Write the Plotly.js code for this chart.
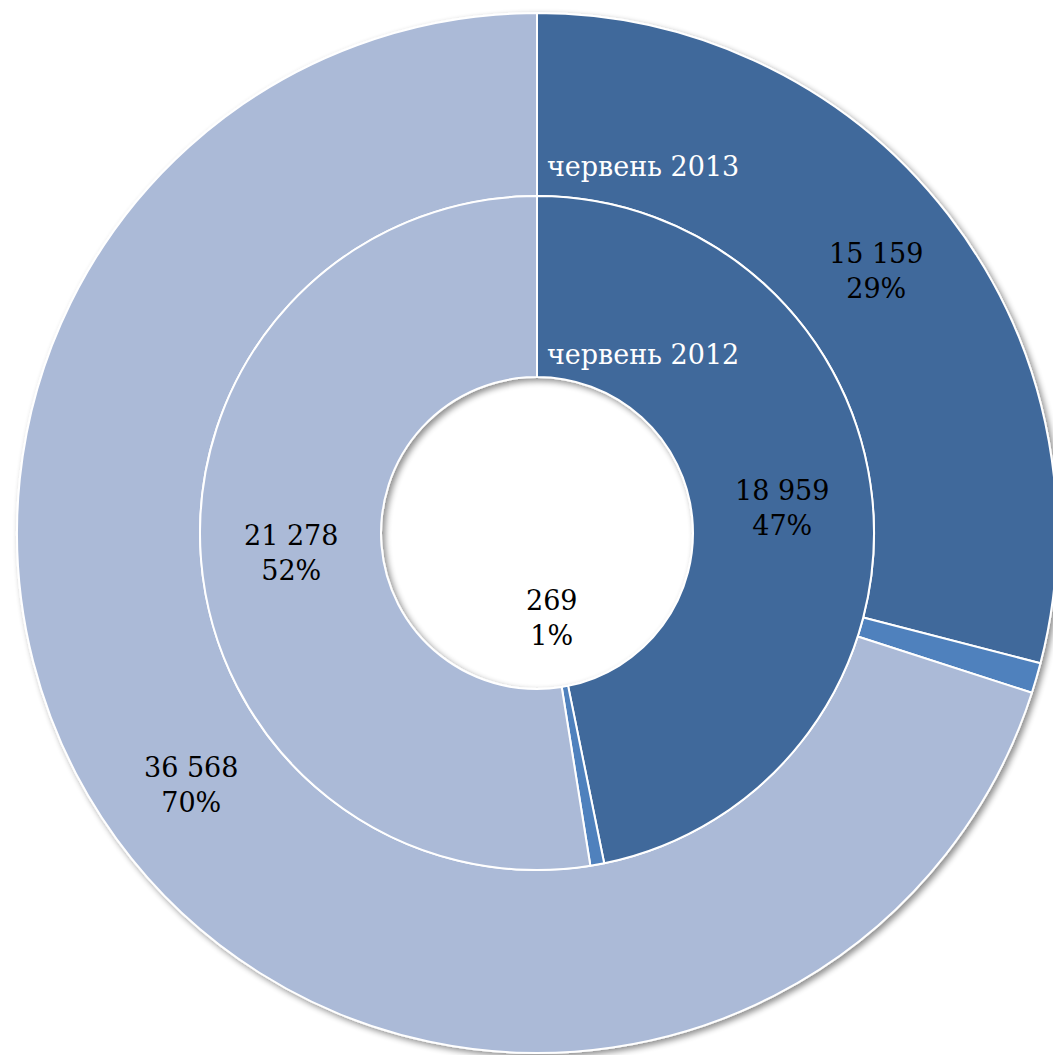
<!DOCTYPE html>
<html>
<head>
<meta charset="utf-8">
<script src="https://cdn.plot.ly/plotly-3.0.1.min.js"></script>
<style>
html, body { margin: 0; padding: 0; overflow: hidden; background: #ffffff; }
#chart { width: 1080px; height: 1055px; }
</style>
</head>
<body>
<svg width="0" height="0" style="position:absolute">
  <defs>
    <filter id="ringshadow" x="-5%" y="-5%" width="110%" height="110%">
      <feGaussianBlur in="SourceAlpha" stdDeviation="3"/>
      <feOffset dx="3" dy="3" result="blurred"/>
      <feComponentTransfer>
        <feFuncA type="linear" slope="0.45"/>
      </feComponentTransfer>
      <feMerge>
        <feMergeNode/>
        <feMergeNode in="SourceGraphic"/>
      </feMerge>
    </filter>
  </defs>
</svg>
<div id="chart"></div>
<script>
// ---- data ----
const categories = ["A", "B", "C"];
const seriesNames = ["червень 2013", "червень 2012"];
const values2013 = [15159, 490, 36568];
const values2012 = [18959, 269, 21278];
const shownLabels2013 = ["15 159", null, "36 568"];
const shownLabels2012 = ["18 959", "269", "21 278"];
const shownPct2013 = ["29%", null, "70%"];
const shownPct2012 = ["47%", "1%", "52%"];
const colors = ["#41699b", "#4f81bd", "#abbad7"];

// ---- geometry ----
const W = 1080, H = 1055;
const cx = 537, cy = 533;      // pixel centre (from top-left)
const R1 = 520, R2 = 337, R3 = 156;
const FONT = "DejaVu Serif";
const FS = 27;

function domainFor(r) {
  return {
    x: [(cx - r) / W, (cx + r) / W],
    y: [(H - cy - r) / H, (H - cy + r) / H]
  };
}

const traces = [
  {
    type: "pie",
    name: seriesNames[0],
    labels: categories,
    values: values2013,
    domain: domainFor(R1),
    hole: R2 / R1,
    sort: false,
    direction: "clockwise",
    rotation: 0,
    textinfo: "none",
    hoverinfo: "none",
    marker: { colors: colors, line: { color: "#ffffff", width: 2 } },
    showlegend: false
  },
  {
    type: "pie",
    name: seriesNames[1],
    labels: categories,
    values: values2012,
    domain: domainFor(R2),
    hole: R3 / R2,
    sort: false,
    direction: "clockwise",
    rotation: 0,
    textinfo: "none",
    hoverinfo: "none",
    marker: { colors: colors, line: { color: "#ffffff", width: 2 } },
    showlegend: false
  }
];

// labels placed at the middle angle of each slice
function ringLabels(vals, texts, pcts, rMid, overrides) {
  const tot = vals.reduce((a, b) => a + b, 0);
  let acc = 0;
  const out = [];
  vals.forEach((v, i) => {
    const mid = (acc + v / 2) / tot * 2 * Math.PI;
    acc += v;
    if (texts[i] === null) return;
    const r = (overrides && overrides[i] !== undefined) ? overrides[i] : rMid;
    const px = cx + r * Math.sin(mid);
    const py = cy - r * Math.cos(mid);
    out.push({
      x: px / W, y: 1 - py / H, xref: "paper", yref: "paper",
      xanchor: "center", yanchor: "middle", showarrow: false,
      text: texts[i] + "<br>" + pcts[i],
      font: { family: FONT, size: FS, color: "#000000" }
    });
  });
  return out;
}

const annotations = []
  .concat(ringLabels(values2013, shownLabels2013, shownPct2013, (R1 + R2) / 2))
  .concat(ringLabels(values2012, shownLabels2012, shownPct2012, (R2 + R3) / 2, { 1: 86 }))
  .concat([
    {
      x: (cx + 8) / W, y: 1 - (cy - R2 - 29) / H, xref: "paper", yref: "paper",
      xanchor: "left", yanchor: "middle", showarrow: false,
      text: seriesNames[0], font: { family: FONT, size: FS, color: "#ffffff" }
    },
    {
      x: (cx + 8) / W, y: 1 - (cy - R3 - 23) / H, xref: "paper", yref: "paper",
      xanchor: "left", yanchor: "middle", showarrow: false,
      text: seriesNames[1], font: { family: FONT, size: FS, color: "#ffffff" }
    }
  ]);

const layout = {
  width: W, height: H,
  margin: { l: 0, r: 0, t: 0, b: 0, pad: 0 },
  paper_bgcolor: "#ffffff",
  plot_bgcolor: "#ffffff",
  showlegend: false,
  annotations: annotations
};

Plotly.newPlot("chart", traces, layout, { displayModeBar: false, staticPlot: true }).then(() => {
  const pl = document.querySelector(".pielayer");
  if (pl) pl.setAttribute("filter", "url(#ringshadow)");
});
</script>
</body>
</html>
